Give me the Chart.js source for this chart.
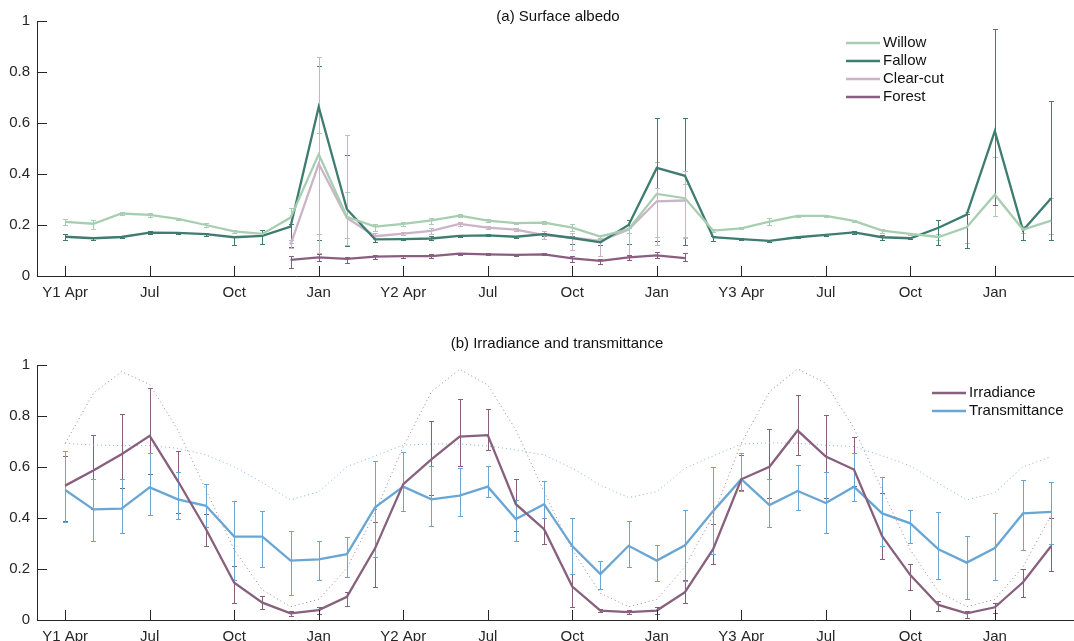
<!DOCTYPE html>
<html>
<head>
<meta charset="utf-8">
<title>Surface albedo, irradiance and transmittance</title>
<script src="https://cdn.jsdelivr.net/npm/chart.js@4.4.1/dist/chart.umd.min.js"></script>
<style>
  body { margin: 0; background: #fff; }
  canvas { display: block; }
</style>
</head>
<body>
<canvas id="albedoChart" width="1074" height="320"></canvas>
<canvas id="lightChart" width="1074" height="321"></canvas>
<script>
// x positions are month indices, 0 = Y1 Apr ... 35 = Y4 Mar
const tickPositions = [0, 3, 6, 9, 12, 15, 18, 21, 24, 27, 30, 33];
const tickLabels = ['Y1 Apr', 'Jul', 'Oct', 'Jan', 'Y2 Apr', 'Jul', 'Oct', 'Jan', 'Y3 Apr', 'Jul', 'Oct', 'Jan'];

// (a) surface albedo
const willow = [0.212, 0.205, 0.245, 0.240, 0.224, 0.200, 0.175, 0.165, 0.229, 0.477, 0.232, 0.194, 0.204, 0.218, 0.237, 0.217, 0.207, 0.209, 0.190, 0.155, 0.183, 0.322, 0.305, 0.178, 0.187, 0.213, 0.236, 0.236, 0.216, 0.178, 0.165, 0.153, 0.191, 0.319, 0.182, 0.217];
const willowLow = [0.200, 0.186, 0.238, 0.233, 0.220, 0.194, 0.170, 0.160, 0.131, 0.165, 0.149, 0.175, 0.198, 0.205, 0.230, 0.212, 0.202, 0.203, 0.175, 0.148, 0.170, 0.153, 0.153, 0.172, 0.183, 0.200, 0.232, 0.232, 0.212, 0.170, 0.160, 0.140, 0.130, 0.234, 0.170, 0.165];
const willowHigh = [0.222, 0.218, 0.250, 0.247, 0.228, 0.206, 0.180, 0.170, 0.267, 0.562, 0.330, 0.205, 0.210, 0.228, 0.244, 0.222, 0.212, 0.215, 0.205, 0.160, 0.200, 0.448, 0.360, 0.184, 0.192, 0.226, 0.240, 0.240, 0.220, 0.186, 0.170, 0.165, 0.250, 0.468, 0.195, 0.306];

const fallow = [0.154, 0.148, 0.153, 0.170, 0.169, 0.164, 0.152, 0.157, 0.194, 0.663, 0.262, 0.144, 0.145, 0.147, 0.157, 0.159, 0.154, 0.164, 0.149, 0.132, 0.200, 0.424, 0.393, 0.152, 0.145, 0.138, 0.152, 0.161, 0.171, 0.152, 0.148, 0.189, 0.241, 0.568, 0.179, 0.305];
const fallowLow = [0.143, 0.143, 0.150, 0.165, 0.166, 0.158, 0.123, 0.126, 0.114, 0.141, 0.116, 0.135, 0.140, 0.140, 0.153, 0.155, 0.150, 0.158, 0.127, 0.122, 0.127, 0.136, 0.123, 0.138, 0.140, 0.135, 0.149, 0.158, 0.166, 0.140, 0.145, 0.122, 0.110, 0.279, 0.143, 0.143];
const fallowHigh = [0.165, 0.153, 0.156, 0.175, 0.172, 0.170, 0.158, 0.181, 0.205, 0.824, 0.473, 0.155, 0.150, 0.155, 0.161, 0.163, 0.158, 0.170, 0.156, 0.142, 0.219, 0.621, 0.621, 0.158, 0.148, 0.141, 0.155, 0.164, 0.176, 0.160, 0.151, 0.220, 0.245, 0.970, 0.190, 0.685];

const clearCut = [null, null, null, null, null, null, null, null, 0.123, 0.440, 0.228, 0.156, 0.166, 0.177, 0.204, 0.190, 0.182, 0.160, 0.150, 0.138, 0.182, 0.293, 0.296, null, null, null, null, null, null, null, null, null, null, null, null, null];
const clearCutLow = [null, null, null, null, null, null, null, null, 0.110, 0.090, 0.120, 0.145, 0.160, 0.165, 0.195, 0.183, 0.176, 0.145, 0.103, 0.077, 0.077, 0.123, 0.150, null, null, null, null, null, null, null, null, null, null, null, null, null];
const clearCutHigh = [null, null, null, null, null, null, null, null, 0.140, 0.857, 0.552, 0.167, 0.172, 0.190, 0.213, 0.197, 0.188, 0.175, 0.170, 0.145, 0.190, 0.346, 0.411, null, null, null, null, null, null, null, null, null, null, null, null, null];

const forest = [null, null, null, null, null, null, null, null, 0.063, 0.073, 0.067, 0.076, 0.078, 0.078, 0.088, 0.085, 0.083, 0.085, 0.069, 0.059, 0.073, 0.081, 0.070, null, null, null, null, null, null, null, null, null, null, null, null, null];
const forestLow = [null, null, null, null, null, null, null, null, 0.031, 0.058, 0.050, 0.068, 0.072, 0.071, 0.084, 0.081, 0.079, 0.081, 0.055, 0.048, 0.062, 0.070, 0.058, null, null, null, null, null, null, null, null, null, null, null, null, null];
const forestHigh = [null, null, null, null, null, null, null, null, 0.077, 0.085, 0.075, 0.084, 0.084, 0.085, 0.092, 0.089, 0.087, 0.089, 0.080, 0.068, 0.082, 0.093, 0.090, null, null, null, null, null, null, null, null, null, null, null, null, null];

// (b) irradiance and transmittance
const irradiance = [0.527, 0.586, 0.650, 0.722, 0.545, 0.356, 0.146, 0.068, 0.026, 0.039, 0.091, 0.281, 0.533, 0.630, 0.719, 0.725, 0.454, 0.356, 0.131, 0.037, 0.031, 0.037, 0.109, 0.278, 0.552, 0.601, 0.743, 0.641, 0.590, 0.329, 0.176, 0.059, 0.026, 0.050, 0.148, 0.290];
const irradianceLow = [0.389, 0.434, 0.516, 0.571, 0.420, 0.289, 0.065, 0.044, 0.015, 0.024, 0.055, 0.131, 0.427, 0.490, 0.604, 0.667, 0.349, 0.298, 0.052, 0.030, 0.022, 0.022, 0.065, 0.218, 0.510, 0.477, 0.646, 0.480, 0.525, 0.239, 0.118, 0.035, 0.009, 0.026, 0.090, 0.192];
const irradianceHigh = [0.644, 0.725, 0.809, 0.909, 0.664, 0.414, 0.213, 0.093, 0.037, 0.052, 0.111, 0.386, 0.660, 0.780, 0.865, 0.826, 0.552, 0.399, 0.180, 0.045, 0.040, 0.050, 0.156, 0.375, 0.647, 0.748, 0.884, 0.805, 0.716, 0.497, 0.221, 0.075, 0.035, 0.068, 0.199, 0.399];

const transmittance = [0.510, 0.434, 0.437, 0.520, 0.473, 0.448, 0.327, 0.327, 0.233, 0.238, 0.258, 0.442, 0.523, 0.473, 0.488, 0.523, 0.396, 0.454, 0.290, 0.180, 0.291, 0.233, 0.293, 0.427, 0.552, 0.451, 0.506, 0.459, 0.523, 0.418, 0.379, 0.277, 0.225, 0.282, 0.418, 0.424];
const transmittanceLow = [0.384, 0.310, 0.340, 0.410, 0.395, 0.364, 0.157, 0.209, 0.097, 0.156, 0.167, 0.246, 0.427, 0.367, 0.408, 0.481, 0.310, 0.401, 0.180, 0.120, 0.207, 0.154, 0.154, 0.260, 0.505, 0.364, 0.430, 0.340, 0.465, 0.291, 0.301, 0.160, 0.081, 0.156, 0.275, 0.297];
const transmittanceHigh = [0.664, 0.552, 0.552, 0.654, 0.582, 0.532, 0.465, 0.426, 0.348, 0.309, 0.327, 0.625, 0.660, 0.604, 0.595, 0.604, 0.469, 0.544, 0.399, 0.231, 0.387, 0.293, 0.430, 0.599, 0.654, 0.552, 0.607, 0.579, 0.654, 0.560, 0.433, 0.425, 0.331, 0.418, 0.550, 0.542];

// dotted reference curves
const irradianceDotted = [0.693, 0.889, 0.974, 0.924, 0.745, 0.510, 0.275, 0.118, 0.052, 0.081, 0.203, 0.420, 0.680, 0.895, 0.983, 0.922, 0.745, 0.503, 0.275, 0.105, 0.052, 0.081, 0.209, 0.410, 0.693, 0.895, 0.985, 0.928, 0.752, 0.510, 0.275, 0.111, 0.052, 0.081, 0.209, 0.412];
const transmittanceDotted = [0.693, 0.686, 0.684, 0.684, 0.673, 0.647, 0.601, 0.539, 0.471, 0.503, 0.601, 0.643, 0.686, 0.690, 0.690, 0.682, 0.667, 0.647, 0.595, 0.529, 0.480, 0.503, 0.595, 0.643, 0.690, 0.695, 0.693, 0.685, 0.680, 0.644, 0.605, 0.536, 0.471, 0.499, 0.601, 0.641];

const FONT = '"Liberation Sans", Arial, Helvetica, sans-serif';
Chart.defaults.font.family = FONT;
Chart.defaults.font.size = 15;
Chart.defaults.color = '#262626';

// turn a value array into {x, y} points, skipping missing months
function toPoints(values) {
    return values.map((v, i) => ({ x: i, y: v })).filter(p => p.y !== null);
}

// vertical error bars with small caps, drawn under the lines
const errorBarPlugin = {
    id: 'errorBars',
    beforeDatasetsDraw(chart) {
        const ctx = chart.ctx;
        const xs = chart.scales.x, ys = chart.scales.y;
        chart.data.datasets.forEach(ds => {
            if (!ds.errLow) return;
            ctx.save();
            ctx.strokeStyle = ds.borderColor;
            ctx.lineWidth = 1;
            ds.errLow.forEach((lo, j) => {
                const hi = ds.errHigh[j];
                if (lo === null || hi === null) return;
                const x = Math.round(xs.getPixelForValue(j)) + 0.5;
                const y1 = Math.round(ys.getPixelForValue(lo)) + 0.5;
                const y2 = Math.round(ys.getPixelForValue(hi)) + 0.5;
                ctx.beginPath();
                ctx.moveTo(x, y1); ctx.lineTo(x, y2);
                ctx.moveTo(x - 2.5, y1); ctx.lineTo(x + 2.5, y1);
                ctx.moveTo(x - 2.5, y2); ctx.lineTo(x + 2.5, y2);
                ctx.stroke();
            });
            ctx.restore();
        });
    }
};

// tick marks pointing into the plot, like the original figure
const innerTicksPlugin = {
    id: 'innerTicks',
    afterDraw(chart) {
        const ctx = chart.ctx;
        const xs = chart.scales.x, ys = chart.scales.y;
        const area = chart.chartArea;
        ctx.save();
        ctx.strokeStyle = '#262626';
        ctx.lineWidth = 1;
        ctx.beginPath();
        xs.ticks.forEach(t => {
            const x = Math.round(xs.getPixelForValue(t.value)) + 0.5;
            ctx.moveTo(x, area.bottom);
            ctx.lineTo(x, area.bottom - 10);
        });
        ys.ticks.forEach(t => {
            const y = Math.round(ys.getPixelForValue(t.value)) + 0.5;
            ctx.moveTo(area.left, y);
            ctx.lineTo(area.left + 10, y);
        });
        ctx.stroke();
        ctx.restore();
    }
};

// panel title and legend drawn inside the plot region
const panelTextPlugin = {
    id: 'panelText',
    afterDraw(chart, args, opts) {
        const ctx = chart.ctx;
        ctx.save();
        ctx.font = '15px ' + FONT;
        ctx.fillStyle = '#111';
        ctx.textBaseline = 'middle';
        ctx.textAlign = 'center';
        ctx.fillText(opts.title, opts.titleX, opts.titleY);
        ctx.textAlign = 'left';
        let y = opts.legendY;
        chart.data.datasets.filter(d => d.inLegend).forEach(d => {
            ctx.strokeStyle = d.borderColor;
            ctx.lineWidth = d.borderWidth;
            ctx.beginPath();
            ctx.moveTo(opts.legendX, y);
            ctx.lineTo(opts.legendX + 34, y);
            ctx.stroke();
            ctx.fillText(d.label, opts.legendX + 37, y);
            y += 18;
        });
        ctx.restore();
    }
};

function makeScales(xHeight) {
    return {
        x: {
            type: 'linear',
            min: -1,
            max: 35.81,
            grid: { display: false, drawTicks: false },
            border: { display: true, color: '#262626', width: 1 },
            afterBuildTicks: s => { s.ticks = tickPositions.map(v => ({ value: v })); },
            afterFit: s => { s.height = xHeight; },
            ticks: {
                autoSkip: false,
                maxRotation: 0,
                padding: 8,
                color: '#262626',
                callback: (value, index) => tickLabels[index]
            }
        },
        y: {
            min: 0,
            max: 1,
            grid: { display: false, drawTicks: false },
            border: { display: true, color: '#262626', width: 1 },
            afterFit: s => { s.width = 37; },
            ticks: {
                stepSize: 0.2,
                padding: 7,
                color: '#262626',
                callback: value => String(Math.round(value * 10) / 10)
            }
        }
    };
}

function lineSet(label, values, color, low, high) {
    return {
        label: label,
        data: toPoints(values),
        borderColor: color,
        borderWidth: 2.3,
        pointRadius: 0,
        tension: 0,
        errLow: low,
        errHigh: high,
        inLegend: true
    };
}

function dottedSet(values, color) {
    return {
        label: '',
        data: toPoints(values),
        borderColor: color,
        borderWidth: 1,
        borderDash: [1, 3],
        pointRadius: 0,
        tension: 0,
        inLegend: false
    };
}

new Chart(document.getElementById('albedoChart'), {
    type: 'line',
    data: {
        datasets: [
            lineSet('Willow', willow, '#a8ceb2', willowLow, willowHigh),
            lineSet('Fallow', fallow, '#3e7c70', fallowLow, fallowHigh),
            lineSet('Clear-cut', clearCut, '#cbb3c8', clearCutLow, clearCutHigh),
            lineSet('Forest', forest, '#8a5e80', forestLow, forestHigh)
        ]
    },
    options: {
        responsive: false,
        animation: false,
        layout: { padding: { top: 21, right: 0, bottom: 0, left: 0 } },
        scales: makeScales(44),
        plugins: {
            legend: { display: false },
            tooltip: { enabled: false },
            panelText: { title: '(a) Surface albedo', titleX: 558, titleY: 17, legendX: 846, legendY: 43 }
        }
    },
    plugins: [errorBarPlugin, innerTicksPlugin, panelTextPlugin]
});

new Chart(document.getElementById('lightChart'), {
    type: 'line',
    data: {
        datasets: [
            lineSet('Irradiance', irradiance, '#87607e', irradianceLow, irradianceHigh),
            lineSet('Transmittance', transmittance, '#6aa6d4', transmittanceLow, transmittanceHigh),
            dottedSet(irradianceDotted, '#a1819a'),
            dottedSet(transmittanceDotted, '#82b6de')
        ]
    },
    options: {
        responsive: false,
        animation: false,
        layout: { padding: { top: 45, right: 0, bottom: 0, left: 0 } },
        scales: makeScales(21),
        plugins: {
            legend: { display: false },
            tooltip: { enabled: false },
            panelText: { title: '(b) Irradiance and transmittance', titleX: 557, titleY: 24, legendX: 932, legendY: 73 }
        }
    },
    plugins: [errorBarPlugin, innerTicksPlugin, panelTextPlugin]
});
</script>
</body>
</html>
